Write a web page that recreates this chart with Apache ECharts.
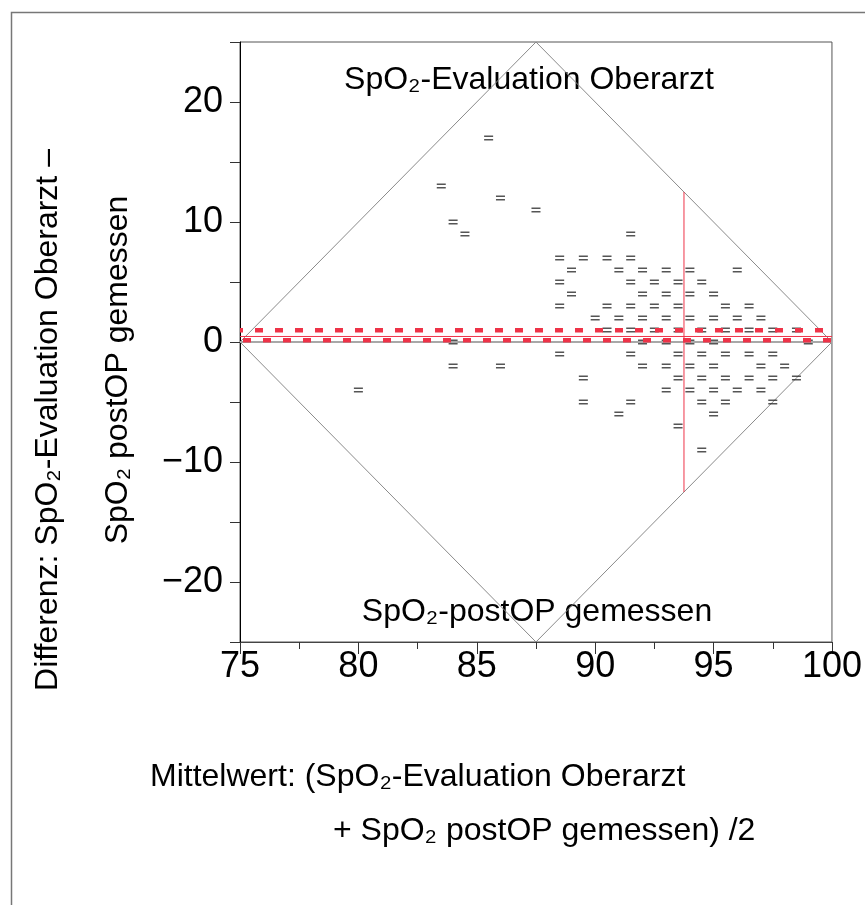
<!DOCTYPE html>
<html>
<head>
<meta charset="utf-8">
<script src="https://cdn.jsdelivr.net/npm/echarts@6/dist/echarts.min.js"></script>
<style>
html,body{margin:0;padding:0;background:#fff;}
#chart{width:865px;height:905px;}
</style>
</head>
<body>
<div id="chart"></div>
<script>
// ---- data ----
var pointMeans = [
  85.5, 83.5, 86, 87.5, 84, 84.5,
  80, 84, 86, 84,
  91.5,
  88.5, 89.5, 90.5, 91.5,
  89, 91, 92, 93, 94, 96,
  88.5, 91.5, 92.5, 93.5, 94.5,
  89, 92, 93, 94, 95,
  88.5, 90.5, 91.5, 92.5, 93.5, 95.5, 96.5,
  90, 91, 92, 93, 94, 95, 96, 97,
  90.5, 91.5, 92.5, 93.5, 94.5, 95.5, 96.5, 97.5, 98.5,
  92, 93, 94, 95, 99,
  88.5, 91.5, 93.5, 94.5, 95.5, 96.5, 97.5,
  92, 93, 94, 95, 97, 98,
  89.5, 93.5, 94.5, 95.5, 96.5, 97.5, 98.5,
  93, 94, 95, 96, 97,
  89.5, 91.5, 94.5, 95.5, 97.5,
  91, 95,
  93.5,
  94.5
];
var pointDiffs = [
  17, 13, 12, 11, 10, 9,
  -4, -2, -2, 0,
  9,
  7, 7, 7, 7,
  6, 6, 6, 6, 6, 6,
  5, 5, 5, 5, 5,
  4, 4, 4, 4, 4,
  3, 3, 3, 3, 3, 3, 3,
  2, 2, 2, 2, 2, 2, 2, 2,
  1, 1, 1, 1, 1, 1, 1, 1, 1,
  0, 0, 0, 0, 0,
  -1, -1, -1, -1, -1, -1, -1,
  -2, -2, -2, -2, -2, -2,
  -3, -3, -3, -3, -3, -3, -3,
  -4, -4, -4, -4, -4,
  -5, -5, -5, -5, -5,
  -6, -6,
  -7,
  -9
];
var diamondX = [75, 87.5, 100, 87.5, 75];
var diamondY = [0, 25, 0, -25, 0];
var xRange = [75, 100];
var meanDiff = 0.46;
var upperLimit = 0.98;
var lowerLimit = 0.15;
var medianMean = 93.75;
var medianSpan = [-12.5, 12.5];
var xTicks = [75, 80, 85, 90, 95, 100];
var yTicks = [-20, -10, 0, 10, 20];

// ---- build ----
var scatterData = pointMeans.map(function (m, i) { return [m, pointDiffs[i]]; });
var diamondData = diamondX.map(function (x, i) { return [x, diamondY[i]]; });
function hLine(v) { return [[xRange[0], v], [xRange[1], v]]; }
function fmt(v) { return v < 0 ? '\u2212' + Math.abs(v) : String(v); }

var FONT = '"Liberation Sans", Arial, sans-serif';
var chart = echarts.init(document.getElementById('chart'), null, {renderer: 'canvas'});
var option = {
  animation: false,
  backgroundColor: '#fff',
  grid: {left: 240, top: 42, width: 597, height: 600, show: true, borderColor: '#555', borderWidth: 1, backgroundColor: 'transparent'},
  xAxis: {
    type: 'value', min: 75, max: 100, interval: 5,
    axisLine: {onZero: false, lineStyle: {color: '#444', width: 1}},
    axisTick: {show: true, length: 12, lineStyle: {color: '#333'}},
    minorTick: {show: true, splitNumber: 2, length: 7, lineStyle: {color: '#333'}},
    splitLine: {show: false},
    axisLabel: {color: '#000', fontSize: 36, fontFamily: FONT, margin: 7,
      formatter: function (v) { return xTicks.indexOf(v) >= 0 ? fmt(v) : ''; }}
  },
  yAxis: {
    type: 'value', min: -25, max: 25, interval: 5,
    axisLine: {onZero: false, lineStyle: {color: '#000', width: 1}},
    axisTick: {show: true, length: 10, lineStyle: {color: '#333'}},
    splitLine: {show: false},
    axisLabel: {color: '#000', fontSize: 36, fontFamily: FONT, margin: 17,
      formatter: function (v) { return yTicks.indexOf(v) >= 0 ? fmt(v) : ''; }}
  },
  series: [
    {type: 'line', data: diamondData, symbol: 'none', silent: true,
      lineStyle: {color: '#8a8a8a', width: 1}, z: 2},
    {type: 'line', data: hLine(0), symbol: 'none', silent: true,
      lineStyle: {color: '#a8a8a8', width: 2}, z: 2},
    {type: 'line', data: hLine(meanDiff), symbol: 'none', silent: true,
      lineStyle: {color: '#ee3348', width: 1}, z: 3},
    {type: 'line', data: hLine(upperLimit), symbol: 'none', silent: true,
      lineStyle: {color: '#ee3348', width: 4.5, type: [8, 12], dashOffset: 5}, z: 5},
    {type: 'line', data: hLine(lowerLimit), symbol: 'none', silent: true,
      lineStyle: {color: '#ee3348', width: 4.5, type: [8, 12], dashOffset: 17}, z: 5},
    {type: 'line', data: [[medianMean, medianSpan[0]], [medianMean, medianSpan[1]]], symbol: 'none', silent: true,
      lineStyle: {color: '#ee3348', width: 1}, z: 3},
    {type: 'scatter', data: scatterData, silent: true,
      symbol: 'path://M0,0H10V1.3H0Z M0,3.4H10V4.7H0Z', symbolSize: [9, 5],
      itemStyle: {color: '#2a2a2a'}, z: 4}
  ],
  graphic: [
    {type: 'rect', shape: {x: 11.5, y: 12.5, width: 900, height: 950}, style: {fill: 'none', stroke: '#777', lineWidth: 1.5}, z: -1},
    {type: 'text', x: 529, y: 80, style: {text: 'SpO₂-Evaluation Oberarzt', align: 'center', verticalAlign: 'middle', font: '32px ' + FONT, fill: '#000'}},
    {type: 'text', x: 537, y: 612, style: {text: 'SpO₂-postOP gemessen', align: 'center', verticalAlign: 'middle', font: '32px ' + FONT, fill: '#000'}},
    {type: 'text', x: 48, y: 420, rotation: Math.PI / 2, style: {text: 'Differenz: SpO₂-Evaluation Oberarzt –', align: 'center', verticalAlign: 'middle', font: '32px ' + FONT, fill: '#000'}},
    {type: 'text', x: 118, y: 370, rotation: Math.PI / 2, style: {text: 'SpO₂ postOP gemessen', align: 'center', verticalAlign: 'middle', font: '32px ' + FONT, fill: '#000'}},
    {type: 'text', x: 150, y: 777, style: {text: 'Mittelwert: (SpO₂-Evaluation Oberarzt', align: 'left', verticalAlign: 'middle', font: '32px ' + FONT, fill: '#000'}},
    {type: 'text', x: 333, y: 831, style: {text: '+ SpO₂ postOP gemessen) /2', align: 'left', verticalAlign: 'middle', font: '32px ' + FONT, fill: '#000'}}
  ]
};
chart.setOption(option);
</script>
</body>
</html>
